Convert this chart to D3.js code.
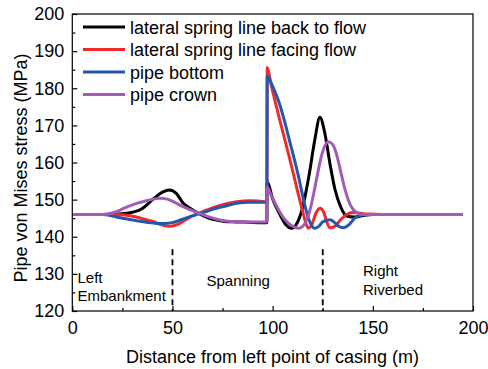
<!DOCTYPE html>
<html>
<head>
<meta charset="utf-8">
<script src="https://cdn.jsdelivr.net/npm/d3@7"></script>
<style>
  body { margin: 0; background: #fff; }
  svg { display: block; font-family: "Liberation Sans", Arial, sans-serif; }
</style>
</head>
<body>
<svg id="chart" width="488" height="369"></svg>
<script>
// ---- data ----
const seriesNames = ["lateral spring line back to flow", "lateral spring line facing flow", "pipe bottom", "pipe crown"];
const seriesColors = ["#000000", "#f02a2a", "#2458ad", "#a35cb6"];

const backX = [0, 10, 20, 25, 30, 35, 38, 41.4, 45, 48.5, 52, 55.4, 59, 62, 64, 68.7, 73, 77, 82, 88, 95.4, 97.1,
  97.3, 100, 103.7, 106.5, 109.5, 112, 115, 118, 121, 123.6, 126, 128.5, 131, 134, 137, 141, 145, 150, 160, 170, 180, 195];
const backY = [146, 146, 146, 146.2, 146.6, 147.6, 149, 150.6, 152, 152.6, 151.6, 149, 147.6, 146.6, 146, 144.9, 144.4, 144.05, 144, 143.9, 143.8, 143.8,
  154.8, 150.2, 145.9, 143.3, 142.3, 143.5, 148, 156, 166, 172.2, 168, 160, 153, 148, 145.6, 145.3, 145.7, 146, 146, 146, 146, 146];

const faceX = [0, 10, 18, 24, 28, 32, 36, 40.4, 44, 48.8, 53, 58.7, 62, 65.4, 69, 73.7, 78, 82, 88.7, 93, 97.1,
  97.3, 99, 101, 104, 107.8, 111, 113, 115, 116.5, 117.8, 119.5, 121.5, 123.6, 125.5, 127, 128.6, 131, 134, 137, 140, 143, 147, 155, 170, 180, 195];
const faceY = [146, 146, 146, 145.9, 145.7, 145.3, 144.7, 144.1, 143.3, 142.8, 143.4, 145.3, 146.1, 146.8, 147.6, 148.4, 149, 149.4, 149.7, 149.6, 149.4,
  185.6, 181.5, 177, 170.5, 162.5, 155.5, 151, 146.8, 143.8, 142.3, 143.2, 146.2, 147.7, 146.6, 144, 142.4, 142.8, 144.6, 146, 146.5, 146.4, 146.1, 146, 146, 146, 146];

const bottomX = [0, 10, 15, 20, 23.9, 28, 32.1, 37, 42.1, 46, 50, 54, 58.7, 62, 65.4, 69, 73.7, 78, 82, 88, 96.2, 97.1,
  97.3, 100, 103, 106, 108.6, 111, 113, 115, 117, 119, 121, 123, 125, 128.6, 131, 133, 135.3, 138, 141, 145, 150, 160, 170, 180, 195];
const bottomY = [146, 146, 146, 145.6, 145.1, 144.7, 144.3, 143.9, 143.6, 143.6, 143.8, 144.5, 145.4, 146, 146.5, 147.2, 147.9, 148.5, 149, 149.3, 149.3, 149.2,
  183.3, 180.5, 176.5, 171, 165.5, 160.5, 156, 151, 146.5, 143.5, 142.3, 142.8, 144, 144.6, 143.8, 142.8, 142.4, 143.2, 145, 145.9, 146, 146, 146, 146, 146];

const crownX = [0, 10, 15.4, 20, 23.9, 28, 32.1, 37, 41.3, 43.8, 47, 52, 55, 58.7, 62, 65.4, 69, 73.7, 79, 85.3, 97.1,
  97.3, 99, 101, 103, 105.3, 108, 110.5, 112.8, 115, 117, 119, 121, 123, 125, 127.8, 130, 132, 134, 136.5, 139, 142, 145, 150, 160, 170, 180, 195];
const crownY = [146, 146, 146, 146.4, 147.2, 148.2, 149, 149.7, 150.2, 150.4, 150.2, 149, 148.2, 147.3, 146.6, 145.9, 145.2, 144.5, 144.1, 144, 144,
  153.3, 151.5, 149.3, 147.2, 145.2, 143.6, 142.7, 142.3, 142.8, 144.5, 148, 153, 158.5, 163, 165.6, 164.8, 162, 157.5, 152, 148.3, 146.5, 146, 146, 146, 146, 146, 146];

const xTicks = [0, 50, 100, 150, 200];
const yTicks = [120, 130, 140, 150, 160, 170, 180, 190, 200];
const regionDividers = [50, 125];

// ---- layout ----
const svg = d3.select("#chart");
const m = { left: 72.3, right: 473, top: 14, bottom: 311 };
const x = d3.scaleLinear().domain([0, 200]).range([m.left, m.right]);
const y = d3.scaleLinear().domain([120, 200]).range([m.bottom, m.top]);

const series = [
  { xs: backX, ys: backY },
  { xs: faceX, ys: faceY },
  { xs: bottomX, ys: bottomY },
  { xs: crownX, ys: crownY }
];

const line = d3.line().x(d => x(d[0])).y(d => y(d[1])).curve(d3.curveMonotoneX);

const clip = svg.append("clipPath").attr("id", "clip").append("rect")
  .attr("x", m.left).attr("y", m.top).attr("width", m.right - m.left).attr("height", m.bottom - m.top);

const g = svg.append("g").attr("clip-path", "url(#clip)");
series.forEach((s, i) => {
  const pts = s.xs.map((v, k) => [v, s.ys[k]]);
  g.append("path").attr("d", line(pts))
    .attr("fill", "none").attr("stroke", seriesColors[i]).attr("stroke-width", 3)
    .attr("stroke-linejoin", "round");
});

// dashed dividers
regionDividers.forEach(v => {
  svg.append("line").attr("x1", x(v)).attr("x2", x(v)).attr("y1", y(136.6)).attr("y2", y(120))
    .attr("stroke", "#000").attr("stroke-width", 1.8).attr("stroke-dasharray", "6,4");
});

// axes
const xAxis = d3.axisBottom(x).tickValues(xTicks).tickSize(-5).tickPadding(10).tickFormat(d3.format("d"));
const xMinor = d3.axisBottom(x).tickValues([25, 75, 125, 175]).tickSize(-3).tickFormat("");
const yAxis = d3.axisLeft(y).tickValues(yTicks).tickSize(-5).tickPadding(8).tickFormat(d3.format("d"));
const yMinor = d3.axisLeft(y).tickValues([125, 135, 145, 155, 165, 175, 185, 195]).tickSize(-3).tickFormat("");

function styleAxis(sel) {
  sel.select(".domain").remove();
  sel.selectAll("line").attr("stroke", "#000").attr("stroke-width", 1.2);
  sel.selectAll("text").attr("font-size", 18).attr("fill", "#000").attr("font-family", "Liberation Sans, Arial, sans-serif");
}
svg.append("g").attr("transform", `translate(0,${m.bottom})`).call(xAxis).call(styleAxis);
svg.append("g").attr("transform", `translate(0,${m.bottom})`).call(xMinor).call(styleAxis);
svg.append("g").attr("transform", `translate(${m.left},0)`).call(yAxis).call(styleAxis);
svg.append("g").attr("transform", `translate(${m.left},0)`).call(yMinor).call(styleAxis);

// frame
svg.append("rect").attr("x", m.left).attr("y", m.top).attr("width", m.right - m.left).attr("height", m.bottom - m.top)
  .attr("fill", "none").attr("stroke", "#000").attr("stroke-width", 1.2);

// axis titles
svg.append("text").attr("x", (125 + 420) / 2).attr("y", 363).attr("text-anchor", "middle")
  .attr("font-size", 18).text("Distance from left point of casing (m)");
svg.append("text").attr("transform", "translate(27,168) rotate(-90)").attr("text-anchor", "middle")
  .attr("font-size", 18).text("Pipe von Mises stress (MPa)");

// region labels
const regionLabels = [
  { lines: ["Left", "Embankment"], x: 77.5, y: 282.5, anchor: "start" },
  { lines: ["Spanning"], x: 206.5, y: 286, anchor: "start" },
  { lines: ["Right", "Riverbed"], x: 363, y: 276, anchor: "start" }
];
regionLabels.forEach(r => {
  const t = svg.append("text").attr("font-size", 15).attr("text-anchor", r.anchor);
  r.lines.forEach((l, i) => t.append("tspan").attr("x", r.x).attr("y", r.y + i * 18.5).text(l));
});

// legend
const lg = svg.append("g");
seriesNames.forEach((n, i) => {
  const yy = 27 + i * 22.5;
  lg.append("line").attr("x1", 83).attr("x2", 125).attr("y1", yy).attr("y2", yy)
    .attr("stroke", seriesColors[i]).attr("stroke-width", 3);
  lg.append("text").attr("x", 130).attr("y", yy + 6.5).attr("font-size", 18).text(n);
});
</script>
</body>
</html>
